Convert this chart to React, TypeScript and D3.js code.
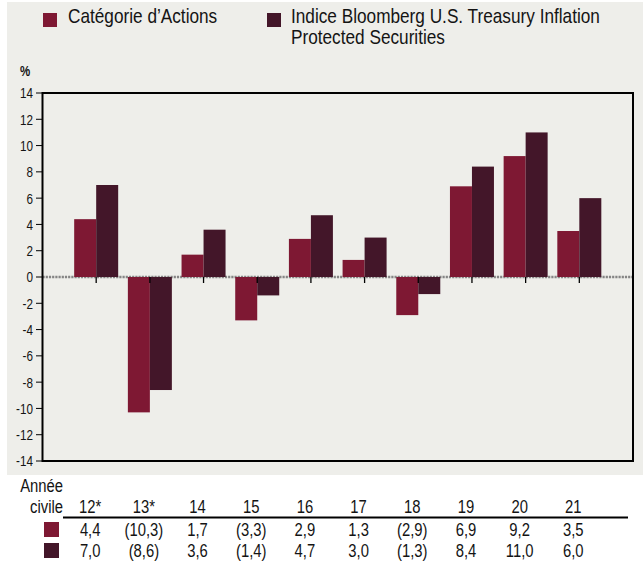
import React from "react";
import * as d3 from "d3";

const categories = ["12*", "13*", "14", "15", "16", "17", "18", "19", "20", "21"];
const seriesActions = [4.4, -10.3, 1.7, -3.3, 2.9, 1.3, -2.9, 6.9, 9.2, 3.5];
const seriesIndex = [7.0, -8.6, 3.6, -1.4, 4.7, 3.0, -1.3, 8.4, 11.0, 6.0];
const yTicks = [14, 12, 10, 8, 6, 4, 2, 0, -2, -4, -6, -8, -10, -12, -14];
const legendLabels = ["Catégorie d’Actions", "Indice Bloomberg U.S. Treasury Inflation", "Protected Securities"];
const tableHeader = ["Année", "civile"];

const W = 643;
const H = 562;
const RED = "#7E1833";
const DARK = "#431629";
const BG = "#EEEEEA";
const FONT = "'Liberation Sans', Arial, sans-serif";

const plot = { left: 42.5, right: 633, top: 93, bottom: 461 };

type NTProps = {
  x: number;
  y: number;
  size: number;
  sx?: number;
  anchor?: "start" | "middle" | "end";
  weight?: string;
  dy?: string;
  children: React.ReactNode;
};

function NText({ x, y, size, sx = 0.82, anchor = "start", weight = "normal", dy, children }: NTProps) {
  return (
    <g transform={`translate(${x},${y}) scale(${sx},1)`}>
      <text x={0} y={0} dy={dy} fontSize={size} fontWeight={weight} textAnchor={anchor} fill="#141414">
        {children}
      </text>
    </g>
  );
}

export default function App() {
  const x = d3.scalePoint<string>().domain(categories).range([plot.left, plot.right]).padding(1);
  const y = d3.scaleLinear().domain([-14, 14]).range([plot.bottom, plot.top]);
  const barW = 22;
  const tableOffset = -6;
  const tSize = 19;
  const tSx = 0.78;
  const fmt = (v: number) => {
    const s = d3.format(".1f")(Math.abs(v)).replace(".", ",");
    return v < 0 ? `(${s})` : s;
  };

  return (
    <svg
      width={W}
      height={H}
      style={{ position: "absolute", left: 0, top: 0, background: "#fff" }}
      fontFamily={FONT}
    >
      <rect x={7} y={2} width={W - 7} height={473} fill={BG} />

      {/* legend */}
      <rect x={43} y={13} width={14} height={14} fill={RED} />
      <NText x={68} y={23} size={21}>{legendLabels[0]}</NText>
      <rect x={267} y={13} width={14} height={14} fill={DARK} />
      <NText x={291} y={23} size={21}>{legendLabels[1]}</NText>
      <NText x={291} y={44} size={21}>{legendLabels[2]}</NText>

      <NText x={20} y={76} size={14} weight="bold">%</NText>

      {/* zero line */}
      <line
        x1={plot.left}
        x2={plot.right}
        y1={y(0)}
        y2={y(0)}
        stroke="#858585"
        strokeWidth={2.5}
        strokeDasharray="2.2,1"
      />

      {/* bars */}
      {categories.map((c, i) => {
        const cx = x(c)!;
        const v1 = seriesActions[i];
        const v2 = seriesIndex[i];
        return (
          <g key={c}>
            <rect x={cx - barW} y={Math.min(y(v1), y(0))} width={barW} height={Math.abs(y(v1) - y(0))} fill={RED} />
            <rect x={cx} y={Math.min(y(v2), y(0))} width={barW} height={Math.abs(y(v2) - y(0))} fill={DARK} />
            <line x1={cx} x2={cx} y1={y(0)} y2={y(0) + 6} stroke="#000" strokeWidth={1.3} />
          </g>
        );
      })}

      {/* frame */}
      <rect
        x={plot.left}
        y={plot.top}
        width={plot.right - plot.left}
        height={plot.bottom - plot.top}
        fill="none"
        stroke="#000"
        strokeWidth={2}
      />

      {/* y axis ticks */}
      {yTicks.map((t) => (
        <g key={t}>
          <line x1={36} x2={plot.left} y1={y(t)} y2={y(t)} stroke="#000" strokeWidth={1} />
          <NText x={33} y={y(t)} dy="0.36em" anchor="end" size={15} sx={0.78}>
            {t}
          </NText>
        </g>
      ))}

      {/* table */}
      <NText x={63} y={492} anchor="end" size={tSize} sx={tSx}>{tableHeader[0]}</NText>
      <NText x={63} y={513} anchor="end" size={tSize} sx={tSx}>{tableHeader[1]}</NText>
      {categories.map((c) => (
        <NText key={c} x={x(c)! + tableOffset} y={513} anchor="middle" size={tSize} sx={tSx}>
          {c}
        </NText>
      ))}
      <line x1={63} x2={628} y1={517.5} y2={517.5} stroke="#000" strokeWidth={2} />
      <rect x={44} y={522} width={15} height={15} fill={RED} />
      <rect x={44} y={543} width={15} height={15} fill={DARK} />
      {categories.map((c, i) => (
        <NText key={"a" + c} x={x(c)! + tableOffset} y={536} anchor="middle" size={tSize} sx={tSx}>
          {fmt(seriesActions[i])}
        </NText>
      ))}
      {categories.map((c, i) => (
        <NText key={"b" + c} x={x(c)! + tableOffset} y={557} anchor="middle" size={tSize} sx={tSx}>
          {fmt(seriesIndex[i])}
        </NText>
      ))}
    </svg>
  );
}
